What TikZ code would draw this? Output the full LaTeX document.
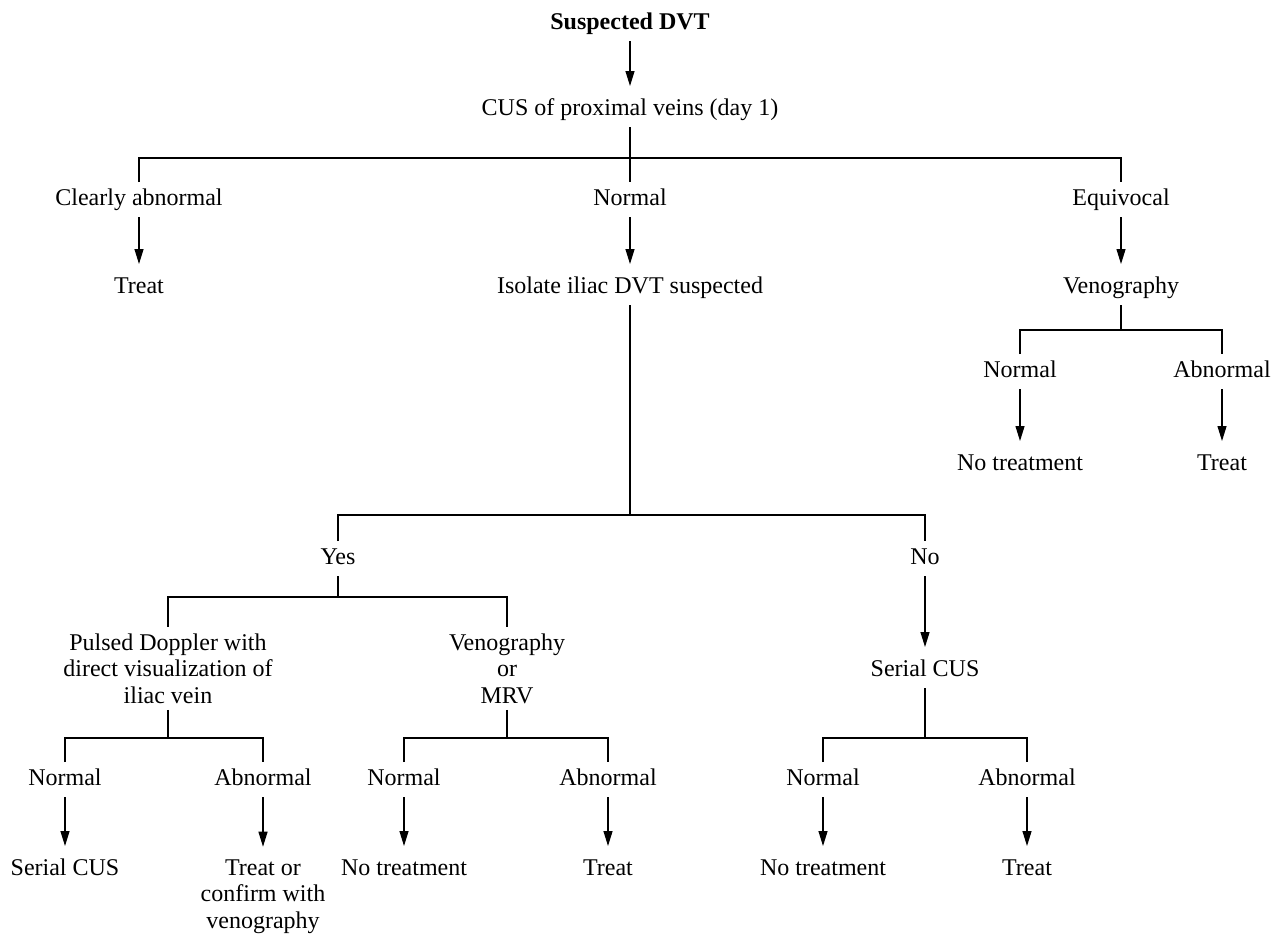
\documentclass[tikz,border=0pt]{standalone}
\usepackage{fontspec}
\setmainfont{Liberation Serif}
\usepackage{tikz}
\usetikzlibrary{arrows.meta, positioning}

\begin{document}
\begin{tikzpicture}[x=0.5pt, y=-0.5pt, line width=0.6pt,
  every node/.style={font=\fontsize{12pt}{13.25pt}\selectfont},
  lbl/.style={anchor=base, inner xsep=2pt, inner ysep=3pt, text height=8.2pt, text depth=2.8pt},
  mlbl/.style={anchor=base, align=center, inner xsep=2pt, inner ysep=3pt},
  arr/.style={-{Triangle[length=7.5pt, width=4.5pt]}, shorten >=3pt}]

\useasboundingbox (0,0) rectangle (1272,934);

\node[lbl, font=\fontsize{12pt}{13.25pt}\selectfont\bfseries] (susp) at (630,29) {Suspected DVT};
\node[lbl] (cus) at (630,115) {CUS of proximal veins (day 1)};

\node[lbl] (clear) at (139,205) {Clearly abnormal};
\node[lbl] (norm) at (630,205) {Normal};
\node[lbl] (equiv) at (1121,205) {Equivocal};

\node[lbl] (treat1) at (139,293) {Treat};
\node[lbl] (iso) at (630,293) {Isolate iliac DVT suspected};
\node[lbl] (veno1) at (1121,293) {Venography};

\node[lbl] (vnorm1) at (1020,377) {Normal};
\node[lbl] (vabn1) at (1222,377) {Abnormal};
\node[lbl] (notr1) at (1020,470) {No treatment};
\node[lbl] (treat2) at (1222,470) {Treat};

\node[lbl] (yes) at (338,564) {Yes};
\node[lbl] (no) at (925,564) {No};

% multi-line nodes sit on their last baseline
\node[mlbl] (doppler) at (168,703) {Pulsed Doppler with\\direct visualization of\\iliac vein};
\node[mlbl] (veno2) at (507,703) {Venography\\or\\MRV};
\node[lbl] (sercus1) at (925,676) {Serial CUS};

\node[lbl] (dnorm) at (65,785) {Normal};
\node[lbl] (dabn) at (263,785) {Abnormal};
\node[lbl] (vnorm2) at (404,785) {Normal};
\node[lbl] (vabn2) at (608,785) {Abnormal};
\node[lbl] (snorm) at (823,785) {Normal};
\node[lbl] (sabn) at (1027,785) {Abnormal};

\node[lbl] (sercus2) at (65,875) {Serial CUS};
\node[mlbl] (confirm) at (263,928) {Treat or\\confirm with\\venography};
\node[lbl] (notr2) at (404,875) {No treatment};
\node[lbl] (treat3) at (608,875) {Treat};
\node[lbl] (notr3) at (823,875) {No treatment};
\node[lbl] (treat4) at (1027,875) {Treat};

\coordinate (bartop) at (630,158);
\coordinate (barven) at (1121,330);
\coordinate (bariso) at (630,515);
\coordinate (baryes) at (338,597);
\coordinate (bardop) at (168,738);
\coordinate (barmrv) at (507,738);
\coordinate (barser) at (925,738);

\draw[arr] (susp) -- (cus);
\draw (cus) -- (norm);
\draw (clear) |- (bartop) -| (equiv);
\draw[arr] (clear) -- (treat1);
\draw[arr] (norm) -- (iso);
\draw[arr] (equiv) -- (veno1);

\draw (veno1) -- (barven);
\draw (vnorm1) |- (barven) -| (vabn1);
\draw[arr] (vnorm1) -- (notr1);
\draw[arr] (vabn1) -- (treat2);

\draw (iso) -- (bariso);
\draw (yes) |- (bariso) -| (no);
\draw (yes) -- (baryes);
\draw (doppler) |- (baryes) -| (veno2);
\draw[arr] (no) -- (sercus1);

\draw (doppler) -- (bardop);
\draw (dnorm) |- (bardop) -| (dabn);
\draw (veno2) -- (barmrv);
\draw (vnorm2) |- (barmrv) -| (vabn2);
\draw (sercus1) -- (barser);
\draw (snorm) |- (barser) -| (sabn);

\draw[arr] (dnorm) -- (sercus2);
\draw[arr] (dabn) -- (confirm);
\draw[arr] (vnorm2) -- (notr2);
\draw[arr] (vabn2) -- (treat3);
\draw[arr] (snorm) -- (notr3);
\draw[arr] (sabn) -- (treat4);

\end{tikzpicture}
\end{document}
